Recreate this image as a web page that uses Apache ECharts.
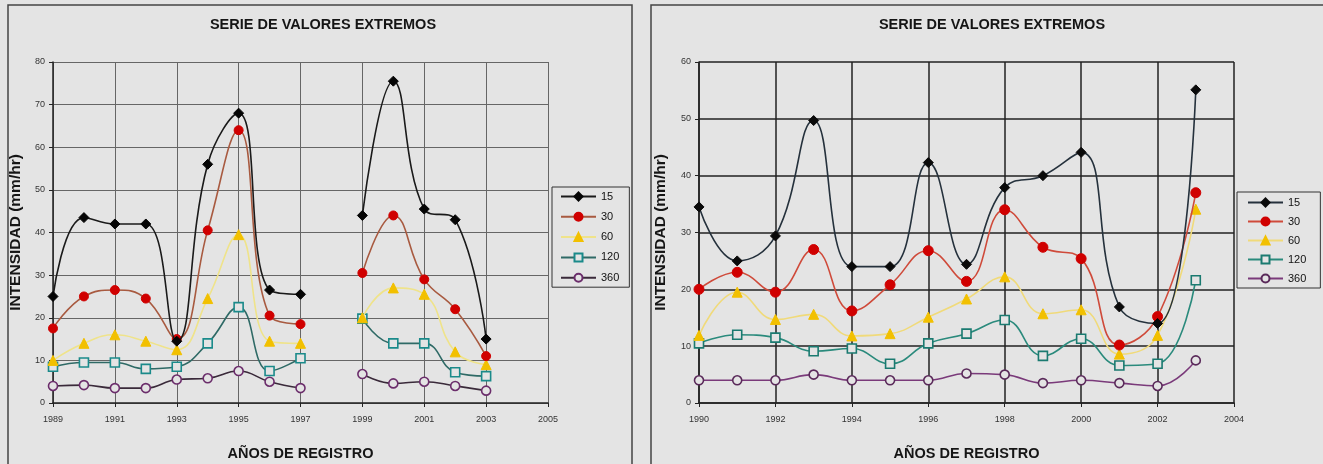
<!DOCTYPE html>
<html>
<head>
<meta charset="utf-8">
<script src="https://cdn.jsdelivr.net/npm/echarts@6/dist/echarts.min.js"></script>
<style>
html,body{margin:0;padding:0;background:#e4e4e4;}
#wrap{position:relative;width:1323px;height:464px;overflow:hidden;background:#e4e4e4;}
#c1{position:absolute;left:0;top:0;width:640px;height:464px;}
#c2{position:absolute;left:640px;top:0;width:683px;height:464px;}
</style>
</head>
<body>
<div id="wrap"><div id="c1"></div><div id="c2"></div></div>
<script>
// ---- Data: left chart ----
const titleText = 'SERIE DE VALORES EXTREMOS';
const yName = 'INTENSIDAD (mm/hr)';
const xName = 'AÑOS DE REGISTRO';
const seriesNames = ['15', '30', '60', '120', '360'];

const yearsL = [1989,1990,1991,1992,1993,1994,1995,1996,1997,1998,1999,2000,2001,2002,2003];
const l15  = [25, 43.5, 42, 42, 14.5, 56, 68, 26.5, 25.5, null, 44, 75.5, 45.5, 43, 15];
const l30  = [17.5, 25, 26.5, 24.5, 15, 40.5, 64, 20.5, 18.5, null, 30.5, 44, 29, 22, 11];
const l60  = [10, 14, 16, 14.5, 12.5, 24.5, 39.5, 14.5, 14, null, 20, 27, 25.5, 12, 9];
const l120 = [8.5, 9.5, 9.5, 8, 8.5, 14, 22.5, 7.5, 10.5, null, 19.8, 14, 14, 7.2, 6.3];
const l360 = [4, 4.2, 3.5, 3.5, 5.5, 5.8, 7.5, 5, 3.5, null, 6.8, 4.6, 5, 4, 2.9];

// ---- Data: right chart ----
const yearsR = [1990,1991,1992,1993,1994,1995,1996,1997,1998,1999,2000,2001,2002,2003];
const r15  = [34.5, 25, 29.4, 49.7, 24, 24, 42.3, 24.4, 37.9, 40, 44.1, 16.9, 14, 55.1];
const r30  = [20, 23, 19.5, 27, 16.2, 20.8, 26.8, 21.4, 34, 27.4, 25.4, 10.2, 15.2, 37];
const r60  = [11.9, 19.5, 14.7, 15.6, 11.8, 12.2, 15.1, 18.3, 22.2, 15.7, 16.4, 8.6, 11.9, 34.1];
const r120 = [10.5, 12, 11.5, 9.1, 9.6, 6.9, 10.5, 12.2, 14.6, 8.3, 11.3, 6.6, 6.9, 21.6];
const r360 = [4, 4, 4, 5, 4, 4, 4, 5.2, 5, 3.5, 4, 3.5, 3, 7.5];

const BG = '#e4e4e4';
const FONT = 'Arial, "Liberation Sans", sans-serif';

function pairs(years, vals){ return years.map((y,i)=> vals[i]==null ? [y,'-'] : [y, vals[i]]); }

function makeSeries(years, arrs, styles){
  return arrs.map((a, i) => {
    const s = styles[i];
    return {
      name: seriesNames[i], type: 'line', smooth: 0.45,
      data: pairs(years, a),
      symbol: s.symbol, symbolSize: s.size,
      showAllSymbol: true,
      lineStyle: { color: s.line, width: 1.6 },
      itemStyle: s.hollow ? { color: BG, borderColor: s.mark, borderWidth: 1.6 } : { color: s.mark, borderColor: s.mark, borderWidth: 1 },
      z: 10 - i
    };
  });
}

function baseOption(o){
  return {
    backgroundColor: BG,
    animation: false,
    graphic: [
      { type:'rect', silent:true, z:-10, shape:{x:o.bx, y:5, width:o.bw, height:480}, style:{fill:'none', stroke:'#444', lineWidth:1.5} },
      { type:'text', silent:true, x:o.tx, y:25, style:{ text:titleText, fontSize:14.5, fontWeight:'bold', fontFamily:FONT, fill:'#151515', align:'center', verticalAlign:'middle' } }
    ],
    grid: { left:o.gl, top:62, width:o.gw, height:341, containLabel:false, outerBoundsMode:'none' },
    legend: {
      orient:'vertical', left:o.lx, top:o.ly, data: seriesNames,
      itemWidth:35, itemHeight:10, itemGap:o.lgap,
      padding:o.lpad, borderColor:'#333', borderWidth:1, backgroundColor:BG,
      textStyle:{ fontSize:11, color:'#111', fontFamily:FONT }
    },
    xAxis: {
      type:'value', min:o.xmin, max:o.xmax, interval:2,
      name:xName, nameLocation:'middle', nameGap:43,
      nameTextStyle:{ fontSize:14.5, fontWeight:'bold', fontFamily:FONT, color:'#151515' },
      axisLine:{ lineStyle:{ color:'#222', width:1.5 } },
      axisTick:{ show:true, length:4, lineStyle:{ color:'#222' } },
      axisLabel:{ fontSize:9, color:'#333', margin:12, fontFamily:FONT, formatter: v => String(v) },
      splitLine:{ show:true, lineStyle:{ color:o.grid, width:o.gridW } }
    },
    yAxis: {
      type:'value', min:0, max:o.ymax, interval:10,
      name:yName, nameLocation:'middle', nameGap:o.ygap, nameRotate:90,
      nameTextStyle:{ fontSize:15.5, fontWeight:'bold', fontFamily:FONT, color:'#151515' },
      axisLine:{ show:true, lineStyle:{ color:'#222', width:1.5 } },
      axisTick:{ show:true, length:4, lineStyle:{ color:'#222' } },
      axisLabel:{ fontSize:9, color:'#333', margin:8, fontFamily:FONT },
      splitLine:{ show:true, lineStyle:{ color:o.grid, width:o.gridW } }
    }
  };
}

const stylesL = [
  { symbol:'diamond', size:10, line:'#1a1a1a', mark:'#050505' },
  { symbol:'circle', size:9, line:'#a85a40', mark:'#d00000' },
  { symbol:'triangle', size:10, line:'#efe38a', mark:'#f2c000' },
  { symbol:'rect', size:9, line:'#2f6a66', mark:'#1a8a8a', hollow:true },
  { symbol:'circle', size:9, line:'#3a2a3a', mark:'#6b2d6b', hollow:true }
];
const stylesR = [
  { symbol:'diamond', size:10, line:'#25313c', mark:'#0a0a0a' },
  { symbol:'circle', size:10, line:'#cf4a3a', mark:'#d00000' },
  { symbol:'triangle', size:10, line:'#f0da7a', mark:'#f2c000' },
  { symbol:'rect', size:9, line:'#2a8a7c', mark:'#1a7a70', hollow:true },
  { symbol:'circle', size:9, line:'#7a3a7a', mark:'#5a2a5a', hollow:true }
];

const opt1 = baseOption({ bx:8, bw:624, tx:323, gl:53, gw:495, lx:552, ly:187, lgap:9.3, lpad:[4,10,4,8],
  xmin:1989, xmax:2005, ymax:80, ygap:25, grid:'#666', gridW:1 });
opt1.series = makeSeries(yearsL, [l15,l30,l60,l120,l360], stylesL);

const opt2 = baseOption({ bx:11, bw:720, tx:352, gl:59, gw:535, lx:597, ly:192, lgap:8, lpad:[5,14,4,10],
  xmin:1990, xmax:2004, ymax:60, ygap:30, grid:'#222', gridW:1.5 });
opt2.series = makeSeries(yearsR, [r15,r30,r60,r120,r360], stylesR);

echarts.init(document.getElementById('c1')).setOption(opt1);
echarts.init(document.getElementById('c2')).setOption(opt2);
</script>
</body>
</html>
